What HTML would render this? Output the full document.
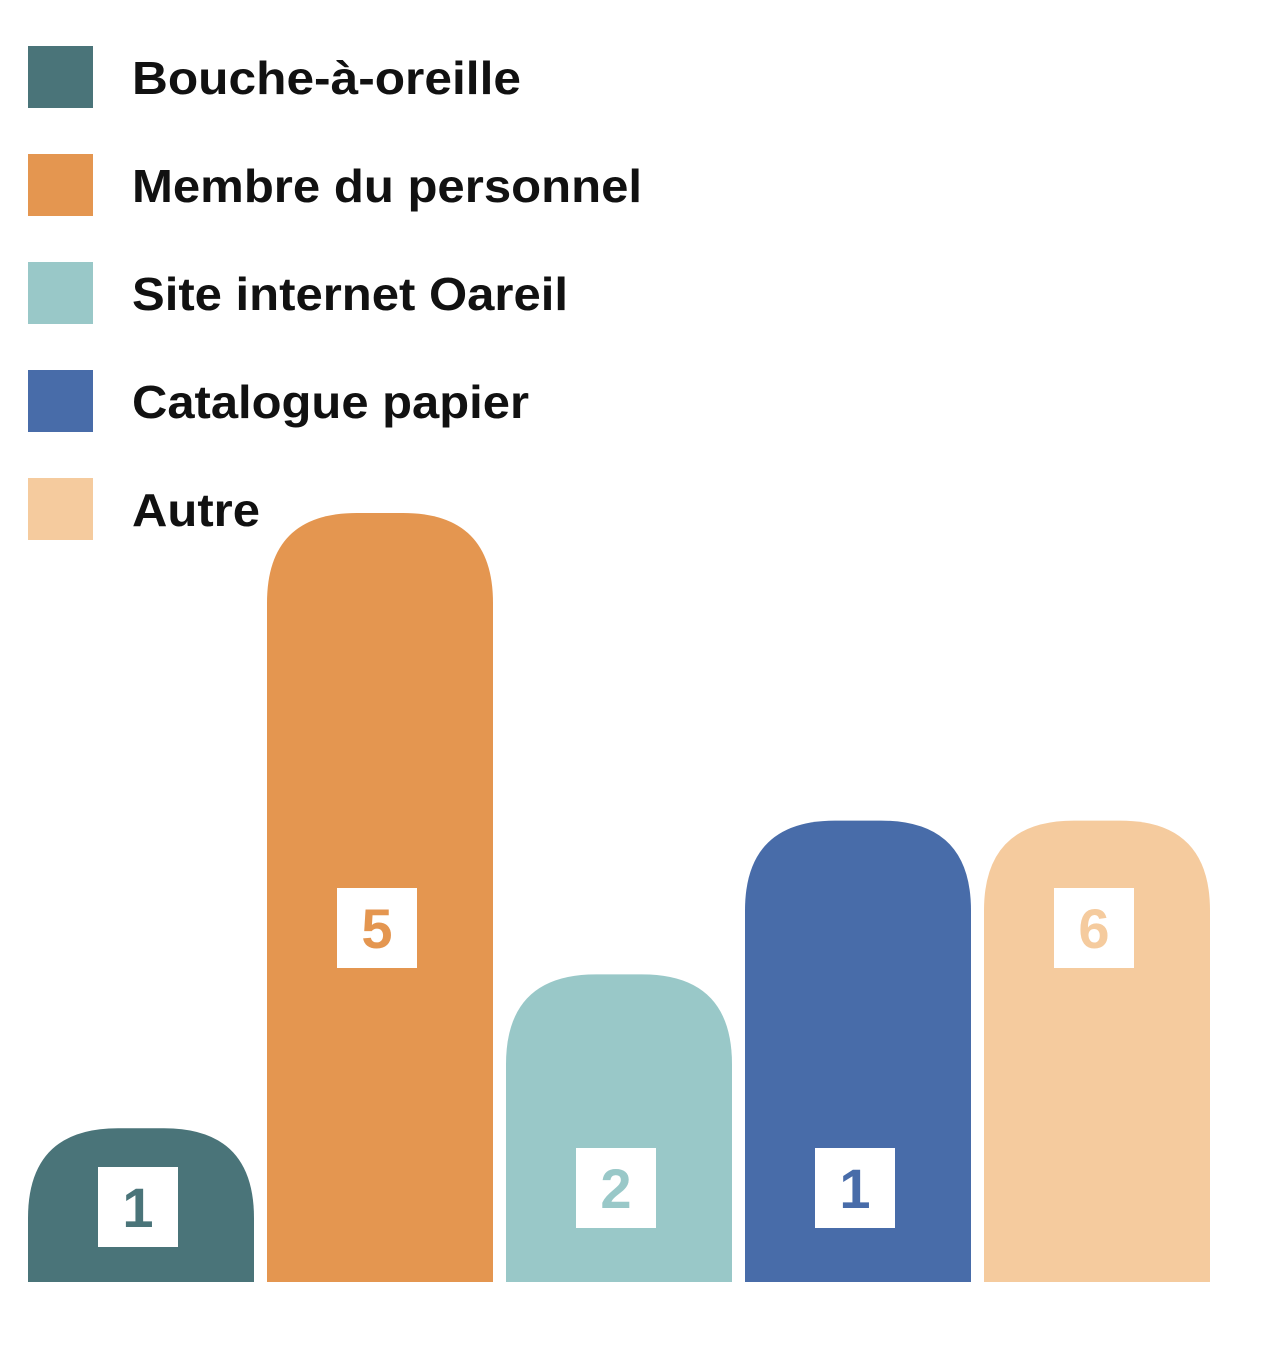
<!DOCTYPE html>
<html><head><meta charset="utf-8"><style>
html,body{margin:0;padding:0;background:#fff;width:1266px;height:1350px;overflow:hidden}
svg{display:block}
text{font-family:"Liberation Sans",sans-serif;font-weight:bold}
</style></head><body>
<svg id="chart" width="1266" height="1350"></svg>
<script>
const categories=["Bouche-à-oreille","Membre du personnel","Site internet Oareil","Catalogue papier","Autre"];
const barValues=[1,5,2,3,3];
const printedLabels=["1","5","2","1","6"];
const labelRow=["low","high","low","low","high"];
const colors=["#4a7479","#e49650","#99c8c8","#486ca9","#f5cb9e"];
const legendWidths=[389,510,436,397,128];
const NS="http://www.w3.org/2000/svg";
const svg=document.getElementById('chart');
const base=1282, unit=153.8, x0=28, step=239, bw=226, r=90;
function yScale(v){return base-v*unit;}
function xScale(i){return x0+i*step;}
function mk(t,a){const e=document.createElementNS(NS,t);for(const k in a)e.setAttribute(k,a[k]);svg.appendChild(e);return e;}
categories.forEach((c,i)=>{
  const y=46+i*108;
  const sq=mk('rect',{x:28,y:y,width:65,height:62,fill:colors[i]});
  
  
  const t=mk('text',{x:132,y:y+48,'font-size':46,fill:'#111',textLength:legendWidths[i],lengthAdjust:'spacingAndGlyphs'});
  t.textContent=c;
  
  
});
barValues.forEach((v,i)=>{
  const x=xScale(i), top=yScale(v), rr=Math.min(r,(base-top));
  const ry=Math.min(rr, (base-top));
  const d=`M${x},${base} L${x},${top+ry} Q${x},${top} ${x+rr},${top} L${x+bw-rr},${top} Q${x+bw},${top} ${x+bw},${top+ry} L${x+bw},${base} Z`;
  const p=mk('path',{d:d,fill:colors[i]});
  
  
  const cy = labelRow[i]==="high"?928:(v===1&&i===0?1207:1188);
  const cx = x+bw/2-3;
  const b=mk('rect',{x:cx-40,y:cy-40,width:80,height:80,fill:'#fff'});
  
  
  const t=mk('text',{x:cx,y:cy+20,'font-size':56,'text-anchor':'middle',fill:colors[i]});
  t.textContent=printedLabels[i];
  
  
});
</script>
</body></html>
